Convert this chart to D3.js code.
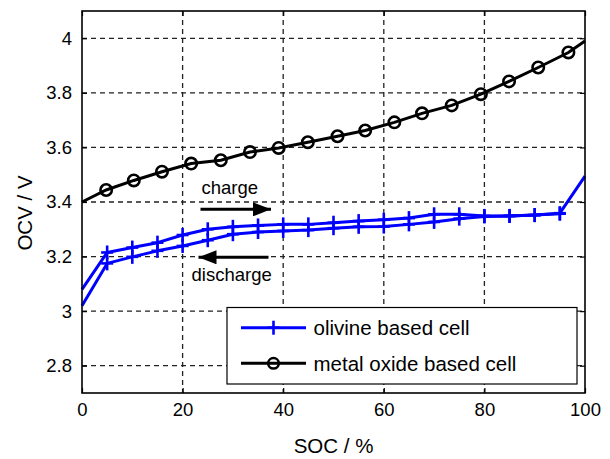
<!DOCTYPE html>
<html lang="en">
<head>
<meta charset="UTF-8"/>
<title>OCV vs SOC</title>
<script src="https://d3js.org/d3.v7.min.js"></script>
<style>
  body { margin: 0; background: #fff; }
  text { font-family: "Liberation Sans", Arial, sans-serif; fill: #000; }
</style>
</head>
<body>
<script>
// values
var socTicks = [0, 20, 40, 60, 80, 100];
var ocvTicks = [2.8, 3, 3.2, 3.4, 3.6, 3.8, 4];

var socOxide = [0, 4.8, 10.3, 15.9, 21.7, 27.6, 33.4, 39.1, 44.9, 50.8, 56.3, 62.1, 67.6, 73.5, 79.3, 84.9, 90.7, 96.7, 100];
var ocvOxide = [3.40, 3.444, 3.479, 3.511, 3.541, 3.553, 3.583, 3.598, 3.619, 3.641, 3.662, 3.692, 3.725, 3.754, 3.795, 3.842, 3.893, 3.948, 3.99];

var socOlivine = [0, 5, 10, 15, 20, 25, 30, 35, 40, 45, 50, 55, 60, 65, 70, 75, 80, 85, 90, 95, 100];
var ocvCharge = [3.08, 3.215, 3.233, 3.251, 3.279, 3.300, 3.309, 3.314, 3.318, 3.318, 3.324, 3.330, 3.335, 3.341, 3.355, 3.355, 3.349, 3.349, 3.352, 3.359, 3.495];
var ocvDischarge = [3.02, 3.175, 3.199, 3.221, 3.239, 3.260, 3.282, 3.290, 3.294, 3.297, 3.304, 3.309, 3.310, 3.318, 3.327, 3.339, 3.347, 3.349, 3.352, 3.357];

var w = 610;
var h = 459;
// plot box edges (named so they don't clash with window.top etc.)
var padL = 82, padR = 585, padT = 11, padB = 393;

var x = d3.scaleLinear().domain([0, 100]).range([padL, padR]);
var y = d3.scaleLinear().domain([2.7, 4.1]).range([padB, padT]);

var svg = d3.select("body")
    .append("svg")
    .attr("width", w)
    .attr("height", h);

// dashed grid
svg.selectAll(".gx")
    .data(socTicks.slice(1, -1))
    .enter()
    .append("line")
    .attr("x1", function (d) { return x(d); })
    .attr("x2", function (d) { return x(d); })
    .attr("y1", padT)
    .attr("y2", padB)
    .attr("stroke", "#222")
    .attr("stroke-width", 1.3)
    .attr("stroke-dasharray", "5,4");

svg.selectAll(".gy")
    .data(ocvTicks)
    .enter()
    .append("line")
    .attr("y1", function (d) { return y(d); })
    .attr("y2", function (d) { return y(d); })
    .attr("x1", padL)
    .attr("x2", padR)
    .attr("stroke", "#222")
    .attr("stroke-width", 1.3)
    .attr("stroke-dasharray", "5,4");

// axes, ticks inside on all four sides
var tickLen = 5;
svg.append("g")
    .attr("transform", "translate(0," + padB + ")")
    .call(d3.axisBottom(x).tickValues(socTicks).tickSize(-tickLen).tickPadding(10))
    .call(function (g) { g.select(".domain").remove(); });
svg.append("g")
    .attr("transform", "translate(0," + padT + ")")
    .call(d3.axisTop(x).tickValues(socTicks).tickSize(-tickLen).tickFormat(""))
    .call(function (g) { g.select(".domain").remove(); });
svg.append("g")
    .attr("transform", "translate(" + padL + ",0)")
    .call(d3.axisLeft(y).tickValues(ocvTicks).tickSize(-tickLen).tickPadding(10)
        .tickFormat(function (d) { return String(d); }))
    .call(function (g) { g.select(".domain").remove(); });
svg.append("g")
    .attr("transform", "translate(" + padR + ",0)")
    .call(d3.axisRight(y).tickValues(ocvTicks).tickSize(-tickLen).tickFormat(""))
    .call(function (g) { g.select(".domain").remove(); });

svg.selectAll(".tick line").attr("stroke", "#000").attr("stroke-width", 1.2);
svg.selectAll(".tick text").style("font-size", "18.5px").attr("fill", "#000");

// metal oxide cell
var oxide = socOxide.map(function (d, i) { return [d, ocvOxide[i]]; });
var line = d3.line()
    .x(function (d) { return x(d[0]); })
    .y(function (d) { return y(d[1]); });

svg.append("path")
    .datum(oxide)
    .attr("d", line)
    .attr("fill", "none")
    .attr("stroke", "#000")
    .attr("stroke-width", 3);

svg.selectAll(".ox")
    .data(oxide.slice(1, -1))
    .enter()
    .append("circle")
    .attr("cx", function (d) { return x(d[0]); })
    .attr("cy", function (d) { return y(d[1]); })
    .attr("r", 5.7)
    .attr("fill", "none")
    .attr("stroke", "#000")
    .attr("stroke-width", 2.6);

// olivine cell, charge and discharge
var charge = socOlivine.map(function (d, i) { return [d, ocvCharge[i]]; });
var discharge = ocvDischarge.map(function (v, i) { return [socOlivine[i], v]; });

function plus(g, px, py, col) {
    g.append("line").attr("x1", px).attr("x2", px).attr("y1", py - 7).attr("y2", py + 7)
        .attr("stroke", col).attr("stroke-width", 2.6);
    g.append("line").attr("x1", px - 6).attr("x2", px + 6).attr("y1", py).attr("y2", py)
        .attr("stroke", col).attr("stroke-width", 2.6);
}

[charge, discharge].forEach(function (series) {
    svg.append("path")
        .datum(series)
        .attr("d", line)
        .attr("fill", "none")
        .attr("stroke", "#0000ff")
        .attr("stroke-width", 3)
        .attr("stroke-linejoin", "round");
    var g = svg.append("g");
    series.forEach(function (d) {
        if (d[0] > 0 && d[0] < 100) plus(g, x(d[0]), y(d[1]), "#0000ff");
    });
});

// axes box
svg.append("rect")
    .attr("x", padL)
    .attr("y", padT)
    .attr("width", padR - padL)
    .attr("height", padB - padT)
    .attr("fill", "none")
    .attr("stroke", "#000")
    .attr("stroke-width", 1.6);

// arrows
svg.append("defs").append("marker")
    .attr("id", "head")
    .attr("viewBox", "0 0 18 14")
    .attr("refX", 18)
    .attr("refY", 7)
    .attr("markerWidth", 18)
    .attr("markerHeight", 14)
    .attr("markerUnits", "userSpaceOnUse")
    .attr("orient", "auto")
    .append("path")
    .attr("d", "M0,0 L18,7 L0,14 Z")
    .attr("fill", "#000");

svg.append("line")
    .attr("x1", 200.5).attr("x2", 271)
    .attr("y1", 209.3).attr("y2", 209.3)
    .attr("stroke", "#000").attr("stroke-width", 3)
    .attr("marker-end", "url(#head)");
svg.append("line")
    .attr("x1", 268.5).attr("x2", 198.5)
    .attr("y1", 257.3).attr("y2", 257.3)
    .attr("stroke", "#000").attr("stroke-width", 3)
    .attr("marker-end", "url(#head)");

svg.append("text").attr("x", 201.5).attr("y", 193.5).style("font-size", "18.5px").text("charge");
svg.append("text").attr("x", 191.5).attr("y", 281).style("font-size", "18.5px").text("discharge");

// axis titles
svg.append("text")
    .attr("x", (padL + padR) / 2)
    .attr("y", 453)
    .attr("text-anchor", "middle")
    .style("font-size", "20.5px")
    .text("SOC / %");
svg.append("text")
    .attr("transform", "translate(32,213) rotate(-90)")
    .attr("text-anchor", "middle")
    .style("font-size", "20.5px")
    .text("OCV / V");

// legend
var lg = svg.append("g");
lg.append("rect")
    .attr("x", 227).attr("y", 307.5)
    .attr("width", 350).attr("height", 76.5)
    .attr("fill", "#fff").attr("stroke", "#000").attr("stroke-width", 1.2);

var legendRows = [
    { label: "olivine based cell", color: "#0000ff", mark: "plus", ly: 327.7 },
    { label: "metal oxide based cell", color: "#000", mark: "circle", ly: 363.3 }
];
legendRows.forEach(function (r) {
    lg.append("line")
        .attr("x1", 241).attr("x2", 306)
        .attr("y1", r.ly).attr("y2", r.ly)
        .attr("stroke", r.color).attr("stroke-width", 3);
    if (r.mark === "plus") {
        plus(lg, 273.5, r.ly, r.color);
    } else {
        lg.append("circle").attr("cx", 273.5).attr("cy", r.ly).attr("r", 5.3)
            .attr("fill", "none").attr("stroke", r.color).attr("stroke-width", 2.5);
    }
    lg.append("text")
        .attr("x", 313.5).attr("y", r.ly + 7.5)
        .style("font-size", "20.5px")
        .text(r.label);
});
</script>
</body>
</html>
